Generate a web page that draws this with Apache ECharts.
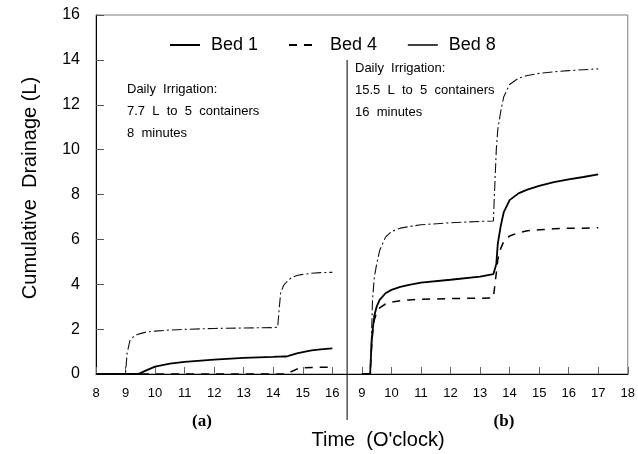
<!DOCTYPE html>
<html>
<head>
<meta charset="utf-8">
<script src="https://cdn.jsdelivr.net/npm/echarts@6/dist/echarts.min.js"></script>
<style>
  html, body { margin: 0; padding: 0; background: #fff; }
  #chart { width: 638px; height: 454px; }
</style>
</head>
<body>
<div id="chart"></div>
<script>
// panel (a): 7.7 L, 8 minutes; panel (b): 15.5 L, 16 minutes (real clock hours)
const timesA = [8, 9, 9.05, 9.15, 9.3, 9.4, 9.5, 9.7, 10, 10.5, 11, 12, 13, 14, 14.15, 14.2, 14.25, 14.35, 14.45, 14.6, 14.8, 15, 15.3, 15.6, 16]
const bed1A = [0, 0, 0, 0, 0, 0, 0.04, 0.16, 0.33, 0.46, 0.54, 0.64, 0.72, 0.76, 0.77, 0.77, 0.77, 0.78, 0.78, 0.84, 0.92, 0.98, 1.05, 1.1, 1.14]
const bed4A = [0, 0, 0, 0, 0, 0, 0, 0, 0, 0, 0, 0, 0, 0, 0, 0, 0, 0, 0, 0.1, 0.22, 0.28, 0.29, 0.3, 0.3]
const bed8A = [0, 0, 0.9, 1.5, 1.7, 1.76, 1.8, 1.87, 1.91, 1.96, 1.99, 2.03, 2.05, 2.07, 2.08, 2.9, 3.6, 3.95, 4.1, 4.28, 4.39, 4.44, 4.49, 4.52, 4.53]

const timesB = [9, 9.28, 9.32, 9.36, 9.42, 9.5, 9.6, 9.8, 10, 10.3, 10.6, 11, 12, 13, 13.45, 13.5, 13.55, 13.6, 13.7, 13.8, 14, 14.3, 14.6, 15, 15.5, 16, 16.5, 17]
const bed1B = [0, 0, 1.2, 1.9, 2.6, 3.0, 3.3, 3.6, 3.75, 3.88, 3.97, 4.07, 4.2, 4.34, 4.45, 4.47, 4.9, 5.8, 6.6, 7.2, 7.75, 8.05, 8.22, 8.38, 8.55, 8.67, 8.78, 8.9]
const bed4B = [0, 0, 1.0, 1.8, 2.4, 2.75, 2.95, 3.12, 3.2, 3.27, 3.3, 3.33, 3.36, 3.38, 3.39, 3.4, 4.5, 5.1, 5.6, 5.9, 6.15, 6.3, 6.38, 6.43, 6.47, 6.5, 6.5, 6.52]
const bed8B = [0, 0, 1.5, 3.3, 4.3, 4.9, 5.5, 6.1, 6.35, 6.5, 6.57, 6.65, 6.74, 6.8, 6.82, 6.85, 10.0, 10.9, 11.7, 12.35, 12.9, 13.18, 13.3, 13.4, 13.47, 13.52, 13.56, 13.6]

const bedNames = ['Bed 1', 'Bed 4', 'Bed 8']
const xMin = 8
const xMax = 26
const panelShift = 8   // panel (b) hours are drawn 8 units to the right
const panelBreak = 16.5

function joinPanels(a, b) {
  const left = timesA.map((t, i) => [t, a[i]])
  const right = timesB.map((t, i) => [t + panelShift, b[i]])
  return left.concat([[panelBreak, '-']], right)
}

const chart = echarts.init(document.getElementById('chart'))

const font = 'Arial, "Liberation Sans", sans-serif'

const option = {
  animation: false,
  textStyle: { fontFamily: font },
  grid: {
    left: 96,
    right: 10,
    top: 15,
    bottom: 80,
    show: true,
    borderColor: '#7a7a7a',
    borderWidth: 1
  },
  legend: {
    left: 164,
    top: 31,
    itemWidth: 30,
    itemHeight: 14,
    itemGap: 30,
    itemStyle: { color: 'transparent', borderWidth: 0, opacity: 0 },
    textStyle: { fontSize: 18, color: '#000', padding: [0, 0, 0, 6] },
    data: [
      { name: 'Bed 1' },
      { name: 'Bed 4' },
      { name: 'Bed 8', lineStyle: { type: [40, 0], width: 1.5, color: '#000' } }
    ]
  },
  xAxis: {
    type: 'value',
    min: xMin,
    max: xMax,
    interval: 1,
    axisLine: { lineStyle: { color: '#000', width: 1 } },
    axisTick: { inside: true, length: 7, lineStyle: { color: '#666' } },
    splitLine: { show: false },
    axisLabel: {
      fontSize: 13,
      color: '#000',
      margin: 13,
      formatter: v => (v <= 16 ? v : v - panelShift)
    }
  },
  yAxis: {
    type: 'value',
    min: 0,
    max: 16,
    interval: 2,
    axisLine: { show: true, lineStyle: { color: '#000', width: 1 } },
    axisTick: { show: true, inside: true, length: 8, lineStyle: { color: '#555' } },
    splitLine: { show: false },
    axisLabel: { fontSize: 16, color: '#000', margin: 16 }
  },
  series: [
    {
      name: bedNames[0],
      type: 'line',
      symbol: 'none',
      data: joinPanels(bed1A, bed1B),
      lineStyle: { color: '#000', width: 1.8, type: 'solid' },
      itemStyle: { color: '#000' }
    },
    {
      name: bedNames[1],
      type: 'line',
      symbol: 'none',
      data: joinPanels(bed4A, bed4B),
      lineStyle: { color: '#000', width: 1.5, type: [8, 7] },
      itemStyle: { color: '#000' }
    },
    {
      name: bedNames[2],
      type: 'line',
      symbol: 'none',
      data: joinPanels(bed8A, bed8B),
      lineStyle: { color: '#111', width: 1.1, type: [10, 3, 2, 3] },
      itemStyle: { color: '#000' }
    }
  ]
}

chart.setOption(option)

// divider between the two days and the text labels
const divX = chart.convertToPixel({ xAxisIndex: 0 }, panelBreak)
const divTop = chart.convertToPixel({ yAxisIndex: 0 }, 14)
const axisY = chart.convertToPixel({ yAxisIndex: 0 }, 0)

const noteStyle = { fontSize: 13, fill: '#000', fontFamily: font, lineHeight: 22 }

chart.setOption({
  graphic: [
    {
      type: 'line',
      shape: { x1: divX, y1: divTop, x2: divX, y2: axisY + 46 },
      style: { stroke: '#000', lineWidth: 1 }
    },
    {
      type: 'text', left: 127, top: 78,
      style: Object.assign({ text: 'Daily  Irrigation:\n7.7  L  to  5  containers\n8  minutes' }, noteStyle)
    },
    {
      type: 'text', left: 355, top: 57,
      style: Object.assign({ text: 'Daily  Irrigation:\n15.5  L  to  5  containers\n16  minutes' }, noteStyle)
    },
    {
      type: 'text', x: 202, y: 422,
      style: { text: '(a)', fontSize: 17, fontWeight: 'bold', fontFamily: '"Liberation Serif", "DejaVu Serif", serif', fill: '#000', align: 'center', verticalAlign: 'middle' }
    },
    {
      type: 'text', x: 504, y: 422,
      style: { text: '(b)', fontSize: 17, fontWeight: 'bold', fontFamily: '"Liberation Serif", "DejaVu Serif", serif', fill: '#000', align: 'center', verticalAlign: 'middle' }
    },
    {
      type: 'text', x: 378, y: 440,
      style: { text: "Time  (O'clock)", fontSize: 20, fontFamily: font, fill: '#000', align: 'center', verticalAlign: 'middle' }
    },
    {
      type: 'text', x: 30, y: 188, rotation: Math.PI / 2,
      style: { text: 'Cumulative  Drainage (L)', fontSize: 20, fontFamily: font, fill: '#000', align: 'center', verticalAlign: 'middle' }
    }
  ]
})

window.addEventListener('resize', () => {
  chart.resize()
})
</script>
</body>
</html>
